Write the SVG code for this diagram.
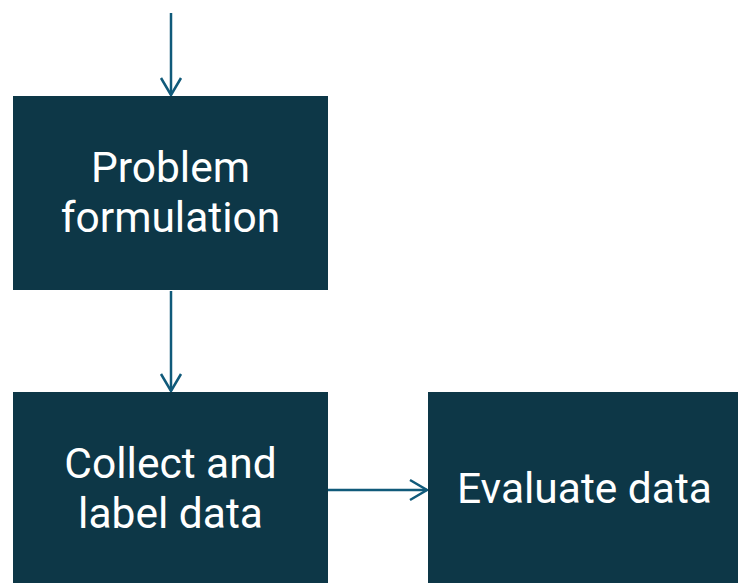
<svg xmlns="http://www.w3.org/2000/svg" width="738" height="583" viewBox="0 0 738 583">
<defs>
<style>
.box{fill:#0d3747;}
.lbl{fill:#ffffff;font-family:Roboto,"Open Sans",sans-serif;font-size:42.5px;text-anchor:middle;}
.edge{stroke:#105a7a;stroke-width:2.5;fill:none;}
</style>
<marker id="ah" viewBox="0 0 22 24" refX="19" refY="12" markerWidth="22" markerHeight="24" markerUnits="userSpaceOnUse" orient="auto">
<path d="M2,2 L19,12 L2,22" fill="none" stroke="#105a7a" stroke-width="2.5"/>
</marker>
</defs>
<g id="connectors">
<line class="edge" x1="171" y1="13" x2="171" y2="95" marker-end="url(#ah)"/>
<line class="edge" x1="171" y1="291" x2="171" y2="391" marker-end="url(#ah)"/>
<line class="edge" x1="328" y1="490" x2="427" y2="490" marker-end="url(#ah)"/>
</g>
<g id="problem-formulation">
<rect class="box" x="13" y="96" width="315" height="194"/>
<text class="lbl" x="170.5" y="182">Problem</text>
<text class="lbl" x="170.5" y="232">formulation</text>
</g>
<g id="collect-label">
<rect class="box" x="13" y="392" width="315" height="200"/>
<text class="lbl" x="170.5" y="478">Collect and</text>
<text class="lbl" x="170.5" y="528">label data</text>
</g>
<g id="evaluate">
<rect class="box" x="428" y="392" width="320" height="200"/>
<text class="lbl" x="584.5" y="503">Evaluate data</text>
</g>
</svg>
